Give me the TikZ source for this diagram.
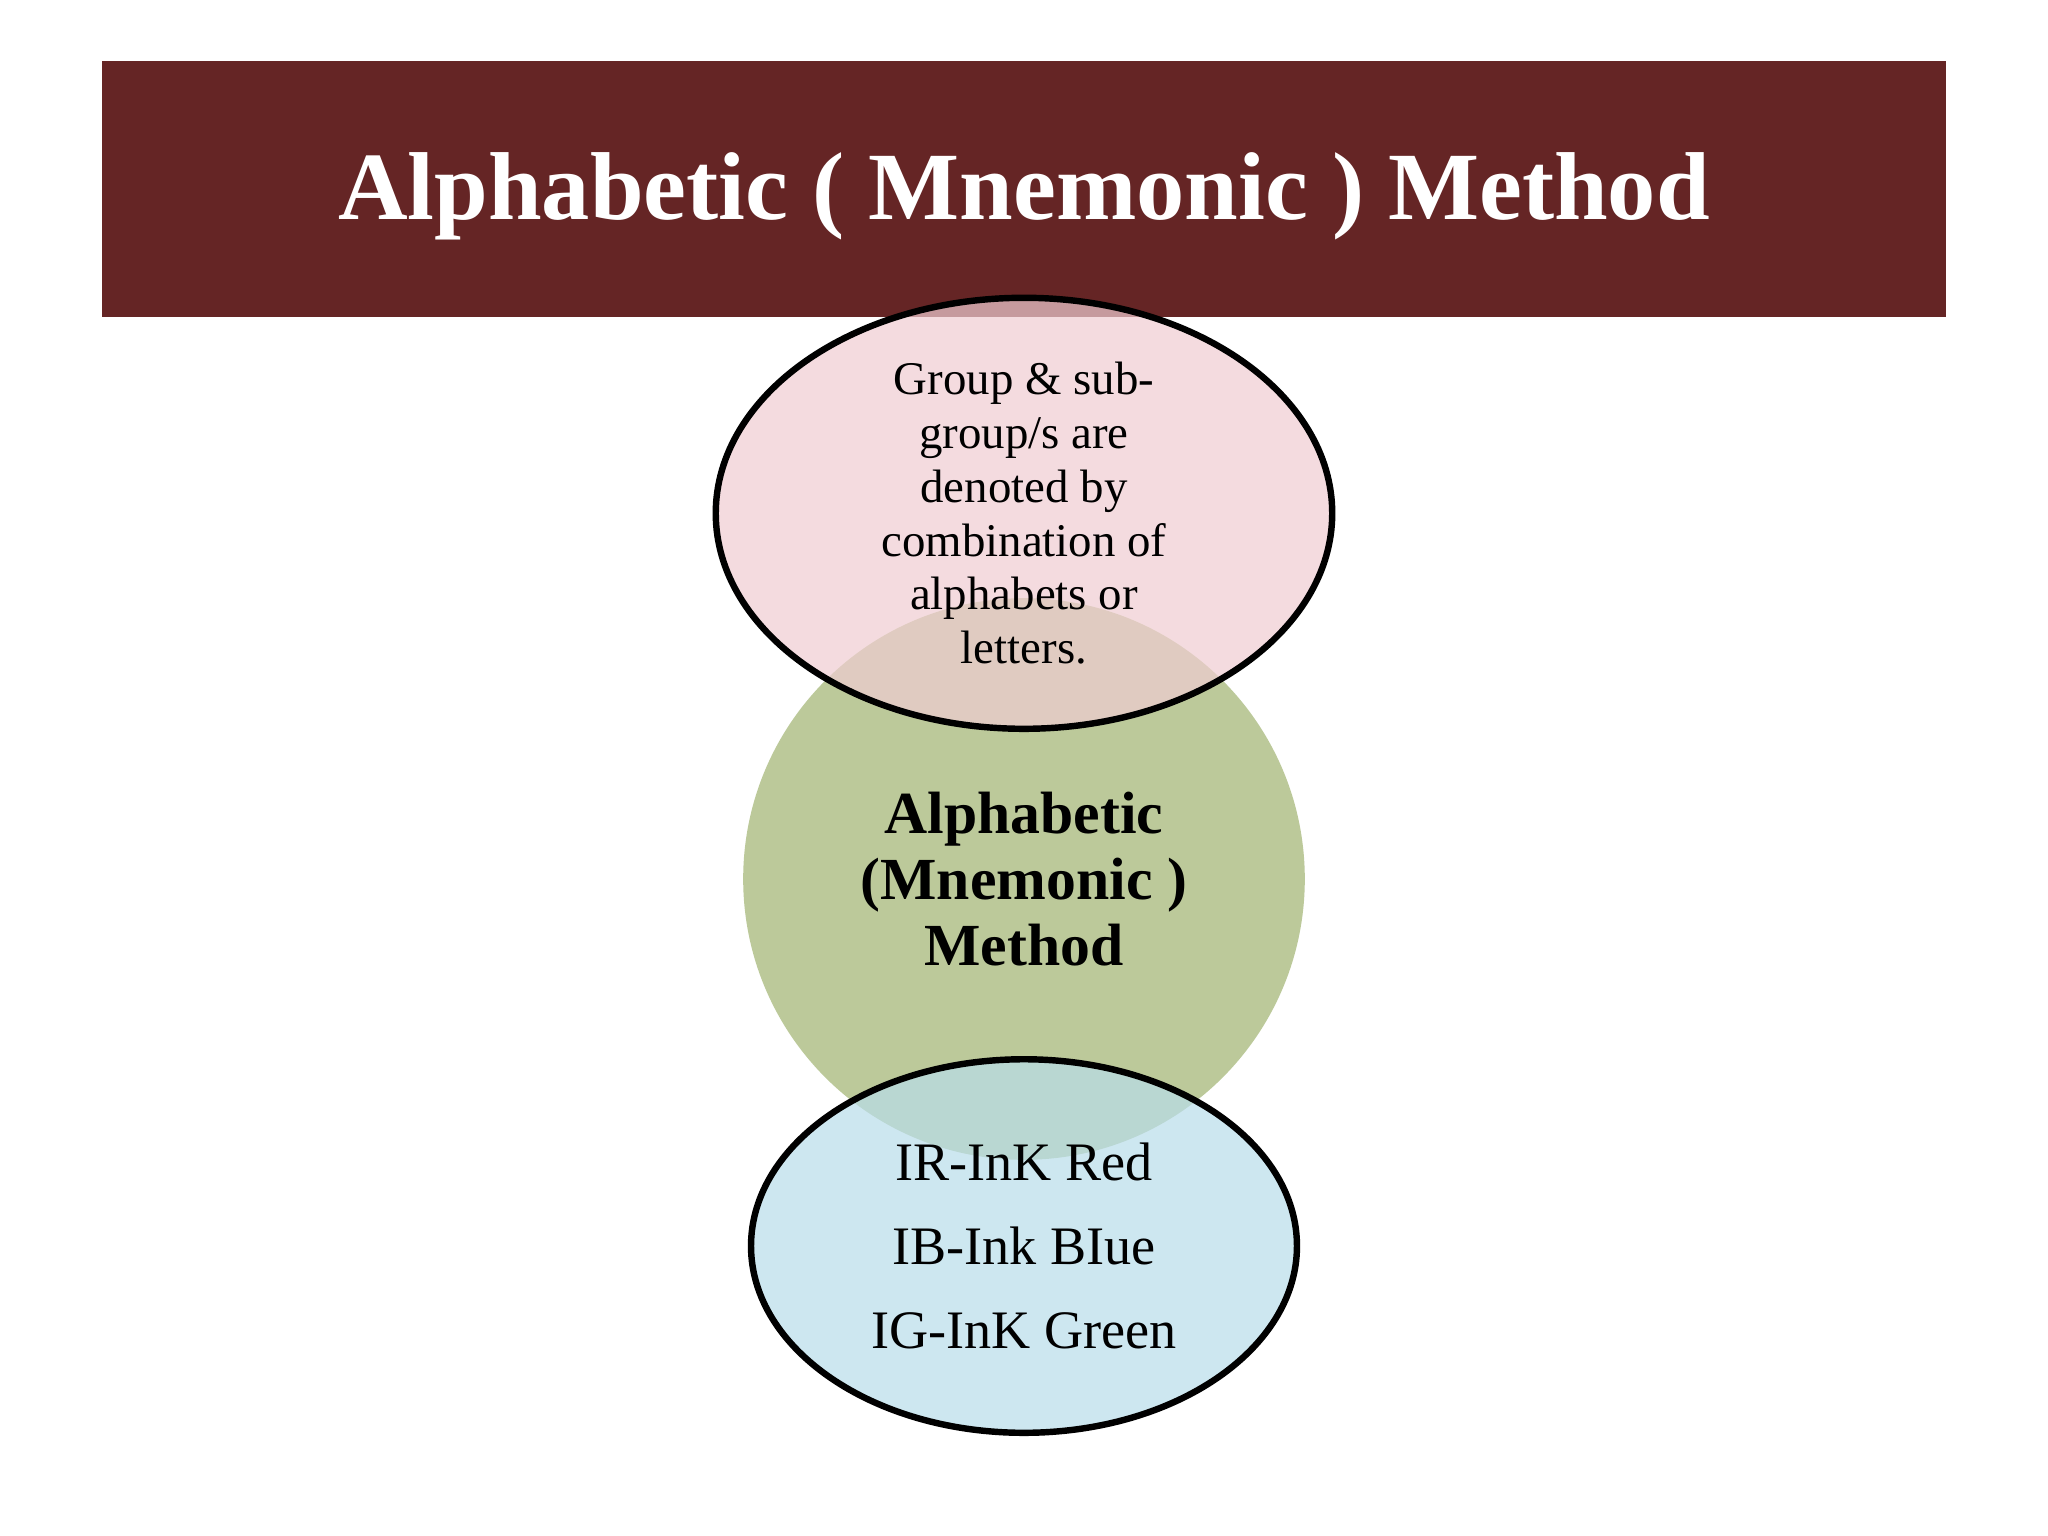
\documentclass[tikz,border=0pt]{standalone}
\usepackage{fontspec}
\setmainfont{Liberation Serif}
\definecolor{banner}{HTML}{652525}
\definecolor{pinkf}{HTML}{F0CDD2}
\definecolor{greenf}{HTML}{BCC99A}
\definecolor{bluef}{HTML}{B9DDEB}
\begin{document}
\begin{tikzpicture}[x=0.01cm,y=-0.01cm,
  txt/.style={align=center,text=black}]
\useasboundingbox (0,0) rectangle (1568,1176);
\fill[white] (0,0) rectangle (1568,1176);
\fill[banner] (78,47) rectangle (1490,243);
\node[text=white,font=\fontsize{21}{25}\selectfont\bfseries] (title) at (784,150) {Alphabetic ( Mnemonic ) Method};
\fill[greenf] (784,673) circle (215);
\filldraw[fill=pinkf,fill opacity=0.7,draw=black,line width=1.4pt] (784,393) ellipse (236 and 165);
\filldraw[fill=bluef,fill opacity=0.7,draw=black,line width=1.4pt] (784,954) ellipse (209 and 143);
\node[txt,font=\fontsize{10.2}{11.7}\selectfont] (top) at (784,393) {Group \& sub-\\group/s are\\denoted by\\combination of\\alphabets or\\letters.};
\node[txt,font=\fontsize{13}{14.3}\selectfont\bfseries] (mid) at (784,673) {Alphabetic\\(Mnemonic )\\Method};
\node[txt,font=\fontsize{11.8}{18.2}\selectfont] (bot) at (784,954) {IR-InK Red\\IB-Ink BIue\\IG-InK Green};
\end{tikzpicture}
\end{document}
